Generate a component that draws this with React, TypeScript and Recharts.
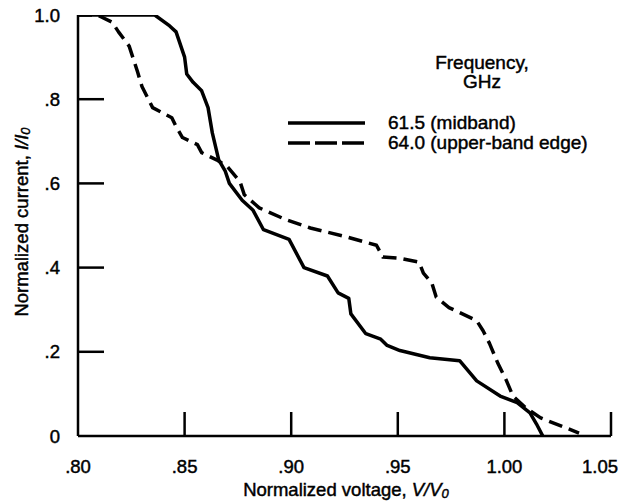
import React from "react";
import {
  LineChart,
  Line,
  XAxis,
  YAxis,
  Label,
  Legend,
} from "recharts";

// 61.5 GHz (midband), solid
const midV = [
  0.8, 0.836, 0.843, 0.846, 0.85, 0.851, 0.854, 0.858, 0.861, 0.863, 0.866,
  0.869, 0.871, 0.877, 0.882, 0.887, 0.899, 0.906, 0.917, 0.922, 0.927, 0.928,
  0.935, 0.942, 0.945, 0.951, 0.965, 0.979, 0.987, 0.998, 1.006, 1.012, 1.015,
  1.018,
];
const midI = [
  1.0, 1.0, 0.974, 0.96, 0.9, 0.86, 0.84, 0.82, 0.78, 0.72, 0.656, 0.63, 0.6,
  0.56, 0.537, 0.49, 0.467, 0.4, 0.38, 0.34, 0.327, 0.29, 0.243, 0.23, 0.215,
  0.203, 0.186, 0.179, 0.131, 0.095, 0.079, 0.055, 0.029, 0.0,
];

// 64.0 GHz (upper-band edge), dashed
const edgeV = [
  0.8, 0.809, 0.816, 0.819, 0.824, 0.826, 0.828, 0.83, 0.833, 0.835, 0.844,
  0.846, 0.849, 0.856, 0.858, 0.865, 0.87, 0.876, 0.878, 0.885, 0.897, 0.909,
  0.926, 0.935, 0.94, 0.943, 0.951, 0.96, 0.962, 0.966, 0.968, 0.974, 0.987,
  0.99, 0.993, 0.997, 1.001, 1.004, 1.01, 1.017, 1.035,
];
const edgeI = [
  1.0, 1.0, 0.983, 0.96, 0.926, 0.895, 0.864, 0.83, 0.8, 0.78, 0.756, 0.735,
  0.709, 0.692, 0.673, 0.656, 0.64, 0.604, 0.573, 0.542, 0.515, 0.494, 0.473,
  0.46, 0.453, 0.425, 0.422, 0.413, 0.387, 0.363, 0.33, 0.305, 0.274, 0.25,
  0.22, 0.172, 0.131, 0.095, 0.067, 0.043, 0.007,
];

const xTicks = [0.8, 0.85, 0.9, 0.95, 1.0, 1.05];
const xTickLabels = [".80", ".85", ".90", ".95", "1.00", "1.05"];
const yTicks = [0, 0.2, 0.4, 0.6, 0.8, 1.0];
const yTickLabels = ["0", ".2", ".4", ".6", ".8", "1.0"];

const legendTitle = ["Frequency,", "GHz"];
const seriesNames = ["61.5 (midband)", "64.0 (upper-band edge)"];

const midData = midV.map((v, k) => ({ v, i: midI[k] }));
const edgeData = edgeV.map((v, k) => ({ v, i: edgeI[k] }));

const FONT = "'Liberation Sans', Arial, sans-serif";
const W = 629;
const H = 502;
const PLOT_LEFT = 78;
const PLOT_BOTTOM = 436;

// slightly heavier text, like the printed original
const textStyle = {
  fontFamily: FONT,
  fontSize: 18.5,
  fill: "#000",
  stroke: "#000",
  strokeWidth: 0.45,
};

function YTick(props: any) {
  const { y, payload, index } = props;
  const val = payload.value;
  return (
    <g>
      {val > 0 && val < 1 && (
        <line
          x1={PLOT_LEFT}
          x2={PLOT_LEFT + 26}
          y1={y}
          y2={y}
          stroke="#000"
          strokeWidth={2.5}
        />
      )}
      <text
        x={PLOT_LEFT - 18}
        y={y}
        textAnchor="end"
        dominantBaseline="central"
        style={textStyle}
      >
        {yTickLabels[index]}
      </text>
    </g>
  );
}

function XTick(props: any) {
  const { x, payload, index } = props;
  const val = payload.value;
  const last = index === xTicks.length - 1;
  return (
    <g>
      {val > 0.8 && (
        <line
          x1={x}
          x2={x}
          y1={PLOT_BOTTOM}
          y2={PLOT_BOTTOM - 24}
          stroke="#000"
          strokeWidth={2.5}
        />
      )}
      <text
        x={last ? x + 7 : x}
        y={PLOT_BOTTOM + 30}
        textAnchor={last ? "end" : "middle"}
        dominantBaseline="central"
        style={textStyle}
      >
        {xTickLabels[index]}
      </text>
    </g>
  );
}

function renderLegend() {
  const s = { ...textStyle, fontSize: 19 };
  return (
    <svg width={340} height={110} style={{ display: "block" }}>
      <text x={202} y={12} textAnchor="middle" dominantBaseline="central" style={s}>
        {legendTitle[0]}
      </text>
      <text x={202} y={31} textAnchor="middle" dominantBaseline="central" style={s}>
        {legendTitle[1]}
      </text>
      <line x1={8} x2={85} y1={73} y2={73} stroke="#000" strokeWidth={3.5} />
      <line
        x1={8}
        x2={85}
        y1={93}
        y2={93}
        stroke="#000"
        strokeWidth={3.5}
        strokeDasharray="22 5"
      />
      <text x={108} y={72} dominantBaseline="central" style={s}>
        {seriesNames[0]}
      </text>
      <text x={108} y={92} dominantBaseline="central" style={s}>
        {seriesNames[1]}
      </text>
    </svg>
  );
}

export default function App() {
  return (
    <div
      style={{
        width: W,
        height: H,
        marginTop: -8,
        marginLeft: -8,
        background: "#fff",
      }}
    >
      <LineChart
        width={W}
        height={H}
        margin={{ top: 15, right: 18, left: 0, bottom: 0 }}
      >
        <XAxis
          type="number"
          dataKey="v"
          domain={[0.8, 1.05]}
          ticks={xTicks}
          interval={0}
          height={66}
          allowDataOverflow
          axisLine={{ stroke: "#000", strokeWidth: 2.5 }}
          tickLine={false}
          tick={XTick}
        >
          <Label
            content={() => (
              <text
                x={346}
                y={489}
                textAnchor="middle"
                dominantBaseline="central"
                style={textStyle}
              >
                Normalized voltage,{" "}
                <tspan fontStyle="italic">V/V</tspan>
                <tspan fontStyle="italic" fontSize={13} dy={4}>
                  0
                </tspan>
              </text>
            )}
          />
        </XAxis>
        <YAxis
          type="number"
          domain={[0, 1]}
          ticks={yTicks}
          interval={0}
          width={78}
          allowDataOverflow
          axisLine={{ stroke: "#000", strokeWidth: 2.5 }}
          tickLine={false}
          tick={YTick}
        >
          <Label
            content={() => (
              <text
                x={21}
                y={222}
                transform="rotate(-90 21 222)"
                textAnchor="middle"
                dominantBaseline="central"
                style={textStyle}
              >
                Normalized current,{" "}
                <tspan fontStyle="italic">I/I</tspan>
                <tspan fontStyle="italic" fontSize={13} dy={4}>
                  0
                </tspan>
              </text>
            )}
          />
        </YAxis>
        <Legend
          layout="vertical"
          align="center"
          verticalAlign="middle"
          content={renderLegend}
          wrapperStyle={{ position: "absolute", left: 280, top: 50, width: 340, height: 110 }}
        />
        <Line
          data={midData}
          dataKey="i"
          name={seriesNames[0]}
          type="linear"
          stroke="#000"
          strokeWidth={3.5}
          strokeLinejoin="round"
          dot={false}
          isAnimationActive={false}
        />
        <Line
          data={edgeData}
          dataKey="i"
          name={seriesNames[1]}
          type="linear"
          stroke="#000"
          strokeWidth={3.5}
          strokeDasharray="14 7"
          strokeLinejoin="round"
          dot={false}
          isAnimationActive={false}
        />
      </LineChart>
    </div>
  );
}
